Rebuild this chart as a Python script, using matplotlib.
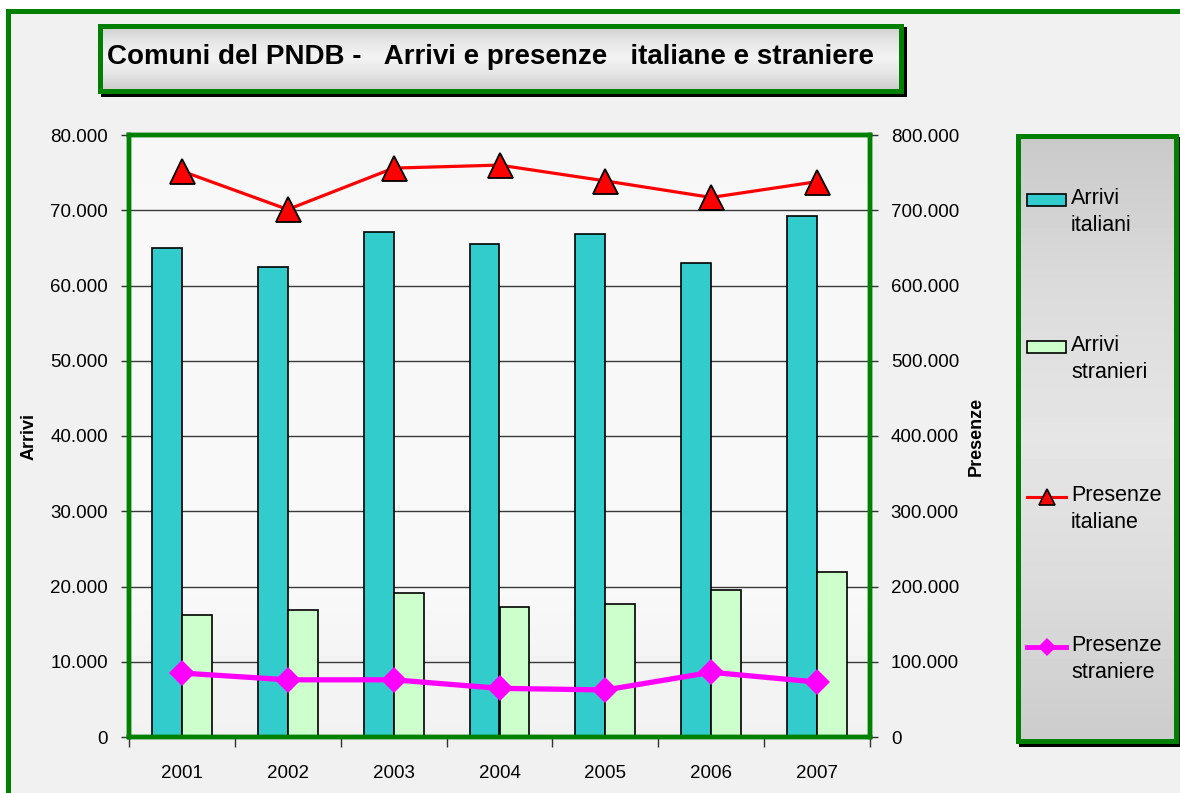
import numpy as np
import matplotlib
matplotlib.use('Agg')
import matplotlib.pyplot as plt
from matplotlib.patches import Rectangle
from matplotlib.lines import Line2D
import matplotlib.transforms as mtransforms
from matplotlib.ticker import FuncFormatter, MultipleLocator, FixedLocator

plt.rcParams['font.family'] = ['Liberation Sans', 'DejaVu Sans']

# ---------------- data ----------------
years = ['2001', '2002', '2003', '2004', '2005', '2006', '2007']
arrivi_italiani = [65000, 62500, 67100, 65500, 66800, 63000, 69200]
arrivi_stranieri = [16200, 16900, 19100, 17300, 17700, 19600, 21900]
presenze_italiane = [752000, 701000, 756000, 760000, 739000, 717000, 738000]
presenze_straniere = [85000, 76000, 76000, 64700, 62500, 86000, 73000]
series_labels = ['Arrivi\nitaliani', 'Arrivi\nstranieri',
                 'Presenze\nitaliane', 'Presenze\nstraniere']
title_text = 'Comuni del PNDB -   Arrivi e presenze   italiane e straniere'
ylabel_left = 'Arrivi'
ylabel_right = 'Presenze'

# ---------------- styles ----------------
W, H = 1180, 793
GREEN = '#008000'
C_IT = '#33CCCC'
C_ST = '#CCFFCC'
C_PIT = '#FF0000'
C_PST = '#FF00FF'

fig = plt.figure(figsize=(W / 100, H / 100), dpi=100)
fig.patch.set_facecolor('white')
px = mtransforms.Affine2D().scale(1 / W, -1 / H).translate(0, 1) + fig.transFigure


def rect(x0, y0, x1, y1):
    return [x0 / W, 1 - y1 / H, (x1 - x0) / W, (y1 - y0) / H]


# outer frame
fig.add_artist(Rectangle((7.5, 10.5), 1200, 800, transform=px, facecolor='#f1f1f1',
                         edgecolor=GREEN, lw=3.6, zorder=-20))


def gradient_box(x0, y0, x1, y1, vals, shadow=4):
    fig.add_artist(Rectangle((x0 + shadow, y0 + shadow), x1 - x0, y1 - y0, transform=px,
                             facecolor='black', edgecolor='black', lw=3.6, zorder=-5))
    bax = fig.add_axes(rect(x0, y0, x1, y1))
    g = np.interp(np.linspace(0, 1, 200), np.linspace(0, 1, len(vals)), vals)[:, None]
    bax.imshow(np.repeat(g, 2, axis=1), cmap='gray', vmin=0, vmax=1, aspect='auto',
               extent=[0, 1, 0, 1], interpolation='bilinear')
    bax.set_xlim(0, 1)
    bax.set_ylim(0, 1)
    bax.set_xticks([])
    bax.set_yticks([])
    for s in bax.spines.values():
        s.set_color(GREEN)
        s.set_linewidth(3.6)
    return bax


# title box
tax = gradient_box(99.5, 25.5, 900.5, 90.5, [0.80, 0.90, 0.955, 0.90, 0.80], shadow=3.5)
fig.text(107 / W, 1 - 57 / H, title_text, fontsize=20, fontweight='bold',
         ha='left', va='center', color='black')

# ---------------- main axes ----------------
ax = fig.add_axes(rect(129, 135, 870, 737))
ax.set_zorder(1)
bg = np.interp(np.linspace(0, 1, 200), [0, 0.12, 0.25, 1], [0.948, 0.955, 0.975, 0.968])[:, None]
ax.imshow(np.repeat(bg, 2, axis=1), cmap='gray', vmin=0, vmax=1, aspect='auto',
          extent=[-0.5, 6.5, 80000, 0], zorder=-10, interpolation='bilinear')
x = np.arange(len(years))
bw = 0.283
ax.bar(x - bw / 2, arrivi_italiani, bw, color=C_IT, edgecolor='black', lw=1.2, zorder=2)
ax.bar(x + bw / 2, arrivi_stranieri, bw, color=C_ST, edgecolor='black', lw=1.2, zorder=2)
ax.set_xlim(-0.5, 6.5)
ax.set_ylim(0, 80000)
ax.yaxis.set_major_locator(MultipleLocator(10000))
ax.yaxis.grid(True, color='#3a3a3a', lw=1.0, zorder=1)
ax.set_axisbelow(True)
fmt = FuncFormatter(lambda v, p: '{:,.0f}'.format(v).replace(',', '.'))
ax.yaxis.set_major_formatter(fmt)
ax.xaxis.set_major_locator(FixedLocator(np.arange(-0.5, 7, 1)))
ax.xaxis.set_major_formatter(FuncFormatter(lambda v, p: ''))
ax.xaxis.set_minor_locator(FixedLocator(x))
ax.set_xticklabels(years, minor=True)
ax.tick_params(axis='x', which='major', length=7, width=1, color='#333333', direction='out')
ax.tick_params(axis='x', which='minor', length=0, pad=20, labelsize=13.5)
ax.tick_params(axis='y', length=6, width=1, color='#333333', direction='out', pad=9, labelsize=13.5)
for s in ax.spines.values():
    s.set_color(GREEN)
    s.set_linewidth(3.2)
ax.set_ylabel(ylabel_left, fontsize=13, fontweight='bold')
ax.yaxis.set_label_coords(-(129 - 38) / 741, 0.5)

ax2 = ax.twinx()
ax2.plot(x, presenze_italiane, color=C_PIT, lw=2.3, marker='^', ms=18,
         mfc=C_PIT, mec='black', mew=1.3, zorder=5)
ax2.plot(x, presenze_straniere, color=C_PST, lw=3.8, marker='D', ms=13.5,
         mfc=C_PST, mec=C_PST, mew=0, zorder=5)
ax2.set_ylim(0, 800000)
ax2.yaxis.set_major_locator(MultipleLocator(100000))
ax2.yaxis.set_major_formatter(fmt)
ax2.tick_params(axis='y', length=6, width=1, color='#333333', direction='out', pad=9, labelsize=13.5)
for s in ax2.spines.values():
    s.set_color(GREEN)
    s.set_linewidth(3.2)
ax2.set_ylabel(ylabel_right, fontsize=13, fontweight='bold')
ax2.yaxis.set_label_coords((968 - 129) / 741, 0.5)

# ---------------- legend box ----------------
lax = gradient_box(1017.5, 135.5, 1175.5, 740.5, [0.79, 0.86, 0.90, 0.86, 0.80], shadow=3)
lax.set_xlim(1017.5, 1175.5)
lax.set_ylim(740.5, 135.5)
lax.images[0].set_extent([1017.5, 1175.5, 740.5, 135.5])
hx0, hx1 = 1027, 1066
ycent = [200, 347, 497, 647]
handles = [
    Rectangle((hx0, ycent[0] - 6), hx1 - hx0, 12, facecolor=C_IT, edgecolor='black', lw=1.2),
    Rectangle((hx0, ycent[1] - 6), hx1 - hx0, 12, facecolor=C_ST, edgecolor='black', lw=1.2),
]
for h in handles:
    lax.add_patch(h)
lax.add_line(Line2D([hx0, hx1], [ycent[2]] * 2, color=C_PIT, lw=2.2))
lax.plot([(hx0 + hx1) / 2], [ycent[2]], marker='^', ms=11, mfc=C_PIT, mec='black', mew=1.2)
lax.add_line(Line2D([hx0, hx1], [ycent[3]] * 2, color=C_PST, lw=3.5))
lax.plot([(hx0 + hx1) / 2], [ycent[3]], marker='D', ms=9, mfc=C_PST, mec=C_PST, mew=0)
for yc, lab in zip(ycent, series_labels):
    lax.text(1071, yc - 12, lab, fontsize=15.5, ha='left', va='top', linespacing=1.4)

fig.savefig('out.png', dpi=100, facecolor=fig.get_facecolor())
